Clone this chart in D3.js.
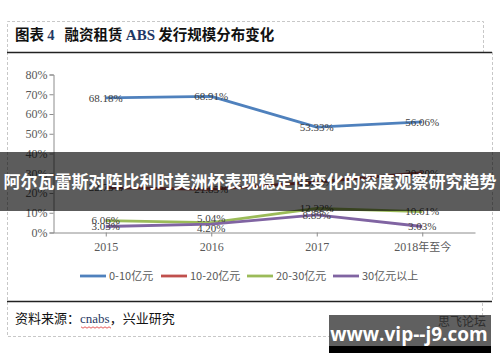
<!DOCTYPE html>
<html>
<head>
<meta charset="utf-8">
<script src="https://cdn.jsdelivr.net/npm/d3@7"></script>
<style>
  body { margin: 0; background: #fff; }
  svg { display: block; }
</style>
</head>
<body>
<div id="chart"></div>
<script>
// data
var years = ["2015", "2016", "2017", "2018年至今"];
var seriesNames = ["0-10亿元", "10-20亿元", "20-30亿元", "30亿元以上"];
var s0to10 = [68.18, 68.91, 53.33, 56.06];
var s10to20 = [22.73, 21.85, 25.56, 30.30];
var s20to30 = [6.06, 5.04, 12.22, 10.61];
var s30plus = [3.03, 4.20, 8.89, 3.03];
var yTicks = [0, 10, 20, 30, 40, 50, 60, 70, 80];
var colors = ["#4f81bd", "#c0504d", "#9bbb59", "#8064a2"];

var allSeries = [s0to10, s10to20, s20to30, s30plus];

var width = 500, height = 362;
var cjk = "'Noto Sans CJK SC', sans-serif";
var serif = "'Liberation Serif', 'DejaVu Serif', serif";

var svg = d3.select("#chart").append("svg")
    .attr("width", width)
    .attr("height", height);

// frame: dashed boxes and solid rules
var frame = svg.append("g")
    .attr("fill", "none")
    .attr("stroke", "#c8c8c8")
    .attr("stroke-dasharray", "3,2");
frame.append("path").attr("d", "M7.5,52 V21.5 H483.5 V52");
frame.append("path").attr("d", "M7.5,52 V336.5 H482.5 V301");
frame.append("path").attr("d", "M492.5,52 V301");

svg.append("line")
    .attr("x1", 7).attr("x2", 492).attr("y1", 52.5).attr("y2", 52.5)
    .attr("stroke", "#222").attr("stroke-width", 1.5);
svg.append("line")
    .attr("x1", 7).attr("x2", 492).attr("y1", 301.5).attr("y2", 301.5)
    .attr("stroke", "#222").attr("stroke-width", 1.5);

// title
var title = svg.append("text")
    .attr("x", 15).attr("y", 40)
    .attr("font-family", cjk)
    .attr("font-weight", "bold")
    .attr("font-size", 14.5)
    .attr("fill", "#111");
title.append("tspan").text("图表 ");
title.append("tspan").attr("fill", "#1f3864").attr("font-family", serif).text("4");
title.append("tspan").attr("dx", 10).text("融资租赁 ");
title.append("tspan").attr("fill", "#1f3864").attr("font-family", serif).attr("font-size", 15).text("ABS");
title.append("tspan").text(" 发行规模分布变化");

// scales
var x = d3.scalePoint()
    .domain(years)
    .range([53, 475])
    .padding(0.5);
var y = d3.scaleLinear()
    .domain([0, 80])
    .range([232.5, 74.5]);

// axes
var yAxis = svg.append("g")
    .attr("transform", "translate(53.5,0)")
    .call(d3.axisLeft(y).tickValues(yTicks).tickSize(4).tickFormat(function(d) { return d + "%"; }));
var xAxis = svg.append("g")
    .attr("transform", "translate(0,232.5)")
    .call(d3.axisBottom(x).tickSize(4).tickSizeOuter(0));

[yAxis, xAxis].forEach(function(a) {
    a.select(".domain").attr("stroke", "#8c8c8c");
    a.selectAll(".tick line").attr("stroke", "#8c8c8c");
    a.selectAll("text")
        .attr("font-family", serif)
        .attr("font-size", 12)
        .attr("fill", "#595959");
});
yAxis.selectAll("text").attr("x", -6);
xAxis.selectAll("text").attr("y", 10);
xAxis.selectAll(".tick text").filter(function(d) { return d.indexOf("年") > 0; })
    .text(null)
    .each(function() {
        var t = d3.select(this);
        t.append("tspan").text("2018");
        t.append("tspan").attr("font-family", cjk).attr("font-size", 11).text("年至今");
    });

// lines
var line = d3.line()
    .x(function(d, i) { return x(years[i]); })
    .y(function(d) { return y(d); });

svg.append("g").selectAll("path")
    .data(allSeries)
    .enter().append("path")
    .attr("d", line)
    .attr("fill", "none")
    .attr("stroke", function(d, i) { return colors[i]; })
    .attr("stroke-width", 2.8)
    .attr("stroke-linejoin", "round");

// data labels, 2016 small values nudged apart like the original
var labels = [];
allSeries.forEach(function(s, si) {
    s.forEach(function(v, i) {
        var dy = 0;
        if (i === 1 && si === 2) dy = -4;
        if (i === 1 && si === 3) dy = 4;
        labels.push({ v: v, i: i, dy: dy });
    });
});
svg.append("g").selectAll("text")
    .data(labels)
    .enter().append("text")
    .attr("x", function(d) { return x(years[d.i]); })
    .attr("y", function(d) { return y(d.v) + d.dy; })
    .attr("dy", "0.35em")
    .attr("text-anchor", "middle")
    .attr("font-family", serif)
    .attr("font-size", 11)
    .attr("fill", "#404040")
    .text(function(d) { return d.v.toFixed(2) + "%"; });

// legend
var legendX = [80, 161, 247, 333];
var legend = svg.append("g").selectAll("g")
    .data(seriesNames)
    .enter().append("g")
    .attr("transform", function(d, i) { return "translate(" + legendX[i] + ",276)"; });
legend.append("line")
    .attr("x1", 0).attr("x2", 26)
    .attr("stroke", function(d, i) { return colors[i]; })
    .attr("stroke-width", 2.8);
legend.append("text")
    .attr("x", 29).attr("dy", "0.35em")
    .attr("font-family", cjk)
    .attr("font-size", 11)
    .attr("fill", "#595959")
    .text(function(d) { return d; });

// source line
var src = svg.append("text")
    .attr("x", 15).attr("y", 323)
    .attr("font-family", cjk)
    .attr("font-size", 13)
    .attr("fill", "#111");
src.append("tspan").text("资料来源：");
src.append("tspan").attr("font-family", serif).attr("fill", "#1f3864").text("cnabs");
src.append("tspan").text("，兴业研究");
// spell-check squiggle under cnabs
var sq = d3.range(0, 31, 2).map(function(k, j) { return [81 + k, 327 + (j % 2 ? 1.2 : -0.2)]; });
svg.append("path")
    .attr("d", d3.line()(sq))
    .attr("fill", "none")
    .attr("stroke", "#e03030")
    .attr("stroke-width", 0.8);

// overlay banner
svg.append("rect")
    .attr("x", 0).attr("y", 152).attr("width", 500).attr("height", 59)
    .attr("fill", "#000").attr("fill-opacity", 0.64);
svg.append("text")
    .attr("x", 250).attr("y", 182)
    .attr("dy", "0.35em")
    .attr("text-anchor", "middle")
    .attr("font-family", cjk)
    .attr("font-weight", "bold")
    .attr("font-size", 17)
    .attr("fill", "#fff")
    .text("阿尔瓦雷斯对阵比利时美洲杯表现稳定性变化的深度观察研究趋势");

// watermark
svg.append("rect")
    .attr("x", 329).attr("y", 315).attr("width", 162).attr("height", 32)
    .attr("fill", "#4a4a4a").attr("fill-opacity", 0.88);
svg.append("rect")
    .attr("x", 329).attr("y", 346).attr("width", 162).attr("height", 7)
    .attr("fill", "#000");
svg.append("text")
    .attr("x", 486).attr("y", 326)
    .attr("text-anchor", "end")
    .attr("font-family", cjk)
    .attr("font-size", 12)
    .attr("fill", "#2e2e2e")
    .text("思飞论坛");
svg.append("text")
    .attr("x", 409).attr("y", 341)
    .attr("text-anchor", "middle")
    .attr("font-family", "'Open Sans', 'DejaVu Sans', sans-serif")
    .attr("font-weight", "bold")
    .attr("font-size", 19)
    .attr("fill", "#fff")
    .text("www.vip--j9.com");
</script>
</body>
</html>
